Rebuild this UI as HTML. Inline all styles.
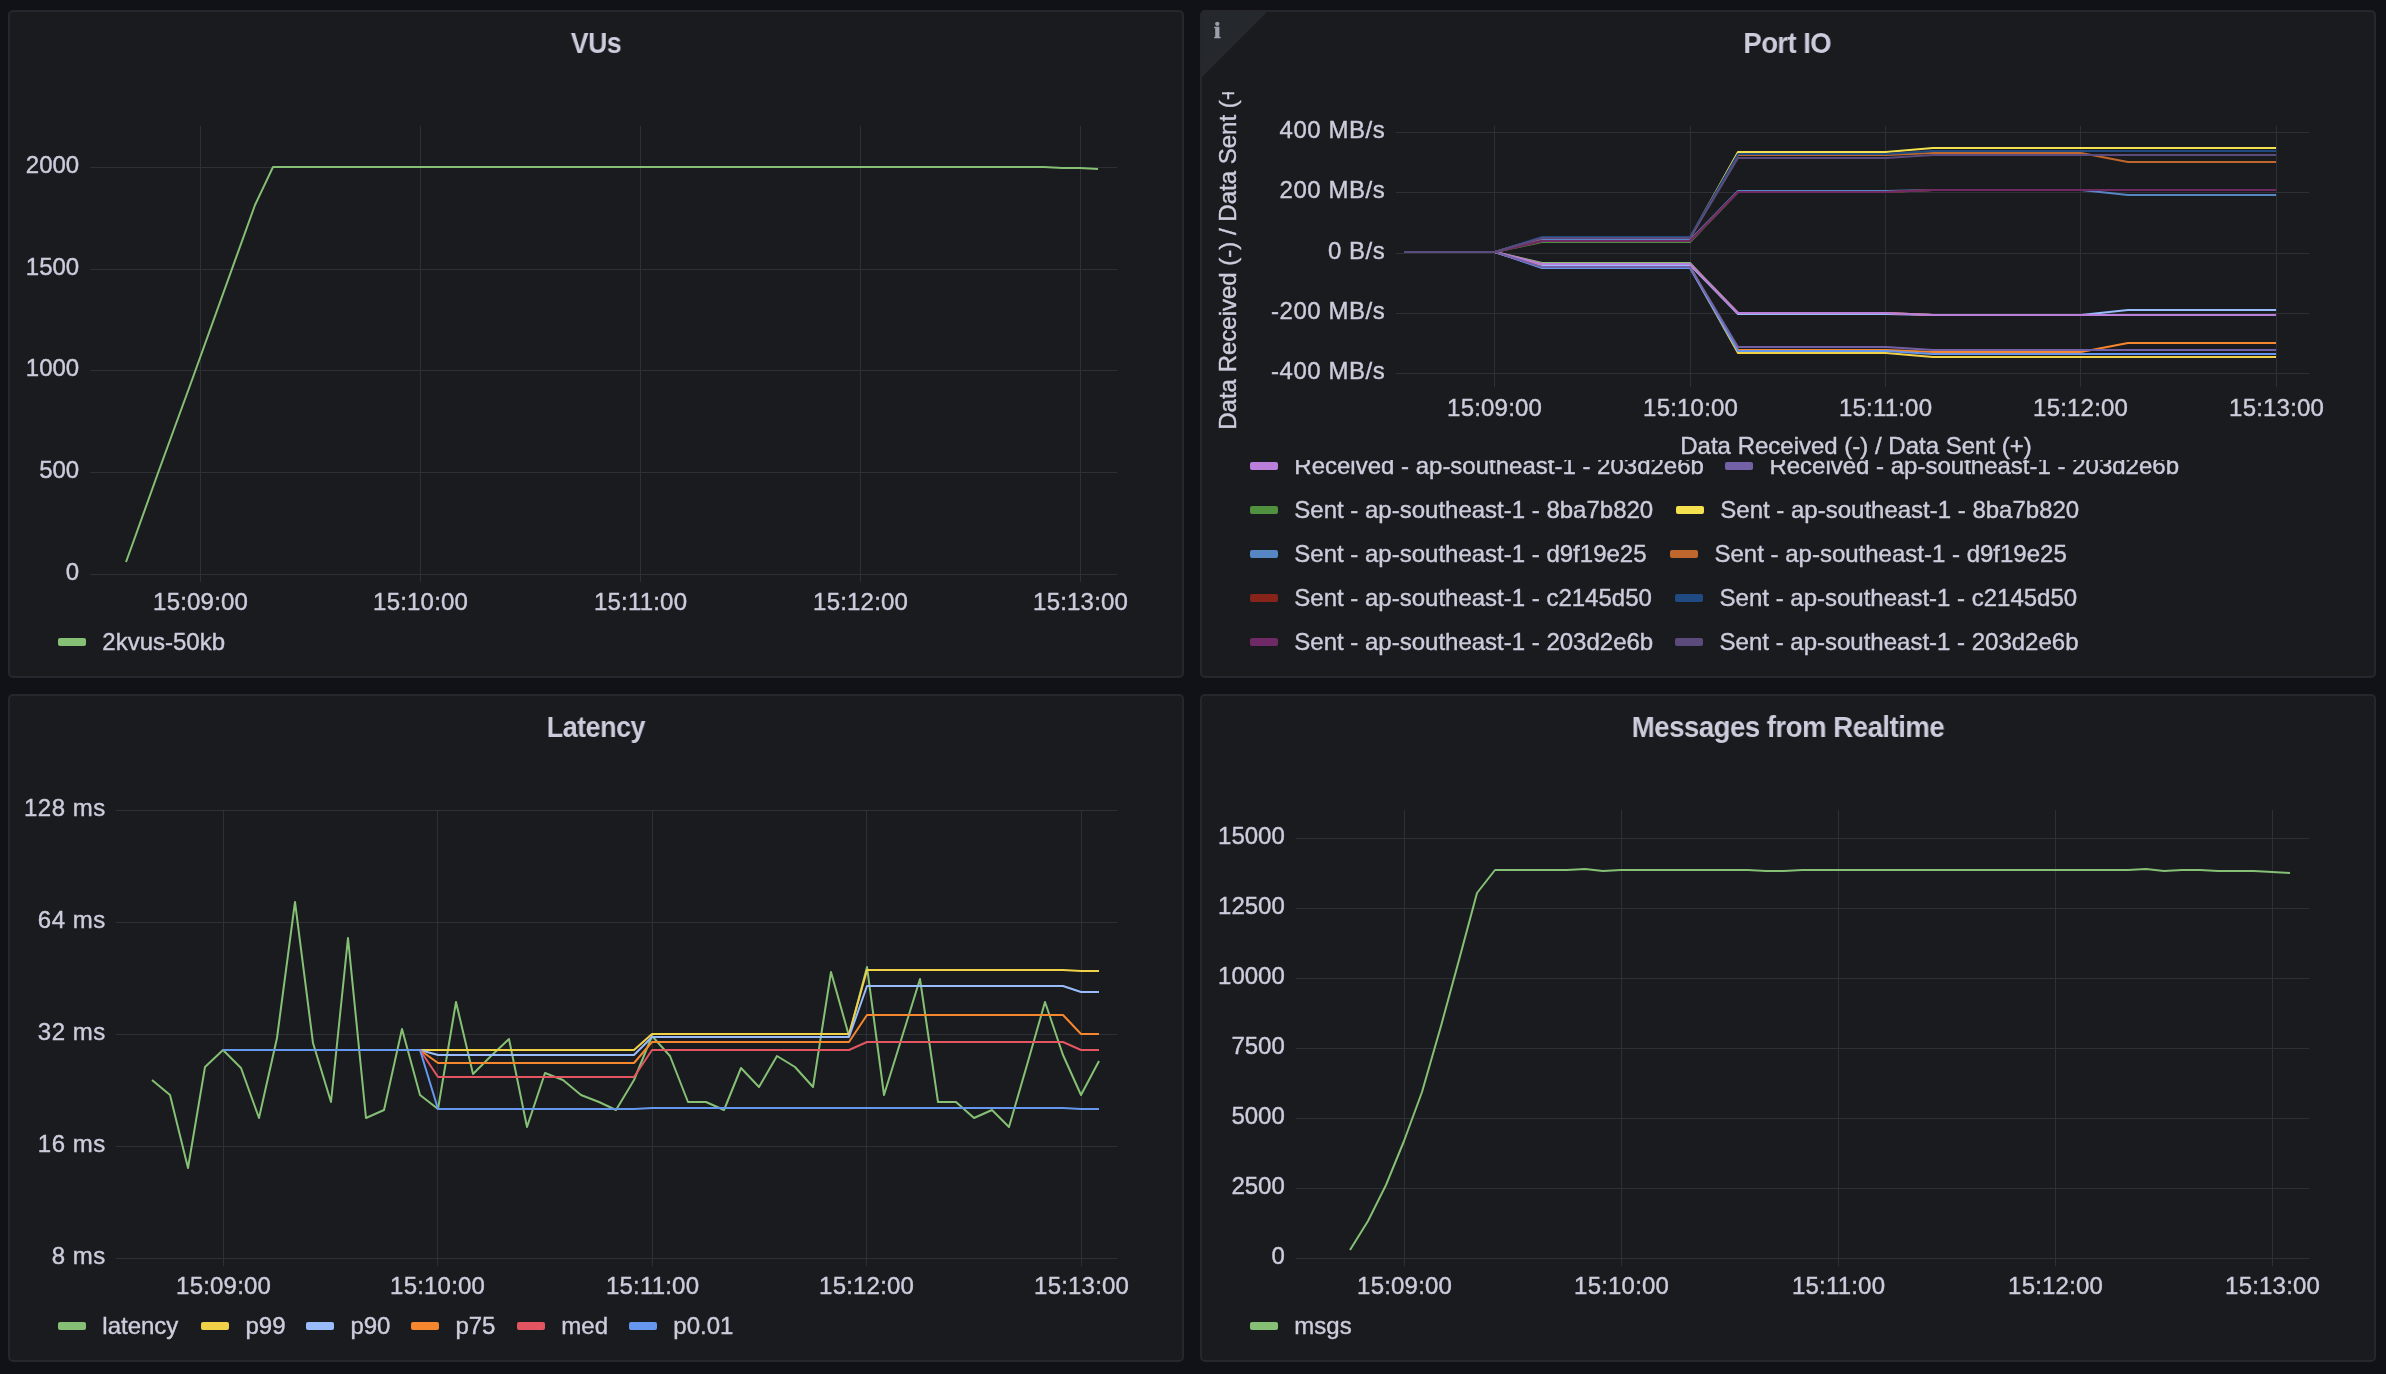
<!DOCTYPE html>
<html lang="en">
<head>
<meta charset="utf-8">
<title>Realtime load test dashboard</title>
<style>
html,body{margin:0;padding:0;}
body{width:2386px;height:1374px;background:#111217;overflow:hidden;position:relative;font-family:"Liberation Sans", sans-serif;color:#ccccdc;}
.panel{position:absolute;width:1172px;height:664px;background:#1a1b1f;border:2px solid #26272c;border-radius:5px;overflow:hidden;}
.title{position:absolute;left:0;right:0;top:10.5px;height:40px;line-height:40px;text-align:center;font-size:29.6px;font-weight:700;color:#ccccdc;letter-spacing:-0.6px;}
.title span{display:inline-block;transform-origin:50% 50%;will-change:transform;}
.chart{position:absolute;will-change:transform;}
.ax text{font-family:"Liberation Sans", sans-serif;font-size:24px;fill:#ccccdc;stroke:#ccccdc;stroke-width:0.4px;}
.legend{position:absolute;left:-2px;top:-2px;width:1176px;height:668px;will-change:transform;}
.sw{position:absolute;width:28px;height:8px;border-radius:2px;}
.lt{position:absolute;font-size:24px;line-height:28px;white-space:nowrap;color:#ccccdc;-webkit-text-stroke:0.4px #ccccdc;}
.corner{position:absolute;left:0;top:0;width:0;height:0;border-top:65px solid #25282d;border-right:65px solid transparent;}
.info{position:absolute;left:12px;top:4.3px;font-family:"Liberation Serif",serif;font-weight:700;font-size:23.5px;line-height:28px;color:#9d9fac;-webkit-text-stroke:0.7px #9d9fac;will-change:transform;}
.lclip{position:absolute;left:-2px;top:448px;width:1176px;height:218px;overflow:hidden;}
</style>
</head>
<body>

<div class="panel" style="left:8px;top:10px">
<div class="title"><span style="transform:scaleX(0.90)">VUs</span></div>
<svg class="chart" width="1176" height="668" viewBox="8 10 1176 668" style="left:-2px;top:-2px">
<rect x="90" y="167" width="1027" height="1" fill="#2f3035"/>
<rect x="90" y="269" width="1027" height="1" fill="#2f3035"/>
<rect x="90" y="370" width="1027" height="1" fill="#2f3035"/>
<rect x="90" y="472" width="1027" height="1" fill="#2f3035"/>
<rect x="90" y="574" width="1027" height="1" fill="#2f3035"/>
<rect x="200" y="126" width="1" height="456" fill="#2f3035"/>
<rect x="420" y="126" width="1" height="456" fill="#2f3035"/>
<rect x="640" y="126" width="1" height="456" fill="#2f3035"/>
<rect x="860" y="126" width="1" height="456" fill="#2f3035"/>
<rect x="1080" y="126" width="1" height="456" fill="#2f3035"/><polyline points="126,562 134,540 158,473 192,380 255,205 273,167 1044,167 1062,168 1080,168 1098,169" fill="none" stroke="#85c074" stroke-width="2" stroke-linejoin="round" stroke-linecap="butt"/><g class="ax"><text x="79.2" y="173" text-anchor="end">2000</text>
<text x="79.2" y="275" text-anchor="end">1500</text>
<text x="79.2" y="376" text-anchor="end">1000</text>
<text x="79.2" y="478" text-anchor="end">500</text>
<text x="79.2" y="580" text-anchor="end">0</text><text x="200.6" y="610" text-anchor="middle" style="letter-spacing:0.2px">15:09:00</text>
<text x="420.6" y="610" text-anchor="middle" style="letter-spacing:0.2px">15:10:00</text>
<text x="640.6" y="610" text-anchor="middle" style="letter-spacing:0.2px">15:11:00</text>
<text x="860.6" y="610" text-anchor="middle" style="letter-spacing:0.2px">15:12:00</text>
<text x="1080.6" y="610" text-anchor="middle" style="letter-spacing:0.2px">15:13:00</text></g>
</svg>
<div class="legend" style="margin-left:-8px;margin-top:-10px">
<span class="sw" style="left:58px;top:638px;background:#85c074"></span><span class="lt" style="left:102.3px;top:628px;">2kvus-50kb</span>
</div>
</div>

<div class="panel" style="left:1200px;top:10px">
<div class="corner"></div><div class="info">i</div>
<div class="title"><span style="transform:scaleX(0.928);margin-left:-1.5px">Port IO</span></div>
<svg class="chart" width="1176" height="668" viewBox="1200 10 1176 668" style="left:-2px;top:-2px">
<rect x="1396" y="132" width="913" height="1" fill="#2f3035"/>
<rect x="1396" y="192" width="913" height="1" fill="#2f3035"/>
<rect x="1396" y="253" width="913" height="1" fill="#2f3035"/>
<rect x="1396" y="313" width="913" height="1" fill="#2f3035"/>
<rect x="1396" y="373" width="913" height="1" fill="#2f3035"/>
<rect x="1494" y="126" width="1" height="261" fill="#2f3035"/>
<rect x="1690" y="126" width="1" height="261" fill="#2f3035"/>
<rect x="1885" y="126" width="1" height="261" fill="#2f3035"/>
<rect x="2080" y="126" width="1" height="261" fill="#2f3035"/>
<rect x="2276" y="126" width="1" height="261" fill="#2f3035"/><polyline points="1404,252 1495,252 1542,263 1690,263 1738,313 1886,313 1933,315 2081,315 2128,315 2276,315" fill="none" stroke="#85c074" stroke-width="2" stroke-linejoin="round" stroke-linecap="butt"/><polyline points="1404,252 1495,252 1542,267 1690,267 1738,353 1886,353 1933,357 2081,357 2128,357 2276,357" fill="none" stroke="#f1d148" stroke-width="2" stroke-linejoin="round" stroke-linecap="butt"/><polyline points="1404,252 1495,252 1542,265 1690,265 1738,314 1886,314 1933,315 2081,315 2128,310 2276,310" fill="none" stroke="#99bdfc" stroke-width="2" stroke-linejoin="round" stroke-linecap="butt"/><polyline points="1404,252 1495,252 1542,267 1690,267 1738,350 1886,350 1933,352 2081,352 2128,343 2276,343" fill="none" stroke="#f6872f" stroke-width="2" stroke-linejoin="round" stroke-linecap="butt"/><polyline points="1404,252 1495,252 1542,264 1690,264 1738,313 1886,313 1933,315 2081,315 2128,315 2276,315" fill="none" stroke="#e25561" stroke-width="2" stroke-linejoin="round" stroke-linecap="butt"/><polyline points="1404,252 1495,252 1542,268 1690,268 1738,351 1886,351 1933,354 2081,354 2128,354 2276,354" fill="none" stroke="#6697ee" stroke-width="2" stroke-linejoin="round" stroke-linecap="butt"/><polyline points="1404,252 1495,252 1542,264 1690,264 1738,313 1886,313 1933,315 2081,315 2128,315 2276,315" fill="none" stroke="#b97fdb" stroke-width="2" stroke-linejoin="round" stroke-linecap="butt"/><polyline points="1404,252 1495,252 1542,267 1690,267 1738,347 1886,347 1933,350 2081,350 2128,350 2276,350" fill="none" stroke="#7261a6" stroke-width="2" stroke-linejoin="round" stroke-linecap="butt"/><polyline points="1404,252 1495,252 1542,242 1690,242 1738,192 1886,192 1933,190 2081,190 2128,190 2276,190" fill="none" stroke="#50913f" stroke-width="2" stroke-linejoin="round" stroke-linecap="butt"/><polyline points="1404,252 1495,252 1542,238 1690,238 1738,152 1886,152 1933,148 2081,148 2128,148 2276,148" fill="none" stroke="#f5e04f" stroke-width="2" stroke-linejoin="round" stroke-linecap="butt"/><polyline points="1404,252 1495,252 1542,240 1690,240 1738,191 1886,191 1933,190 2081,190 2128,195 2276,195" fill="none" stroke="#5686c4" stroke-width="2" stroke-linejoin="round" stroke-linecap="butt"/><polyline points="1404,252 1495,252 1542,238 1690,238 1738,155 1886,155 1933,153 2081,153 2128,162 2276,162" fill="none" stroke="#bf672d" stroke-width="2" stroke-linejoin="round" stroke-linecap="butt"/><polyline points="1404,252 1495,252 1542,241 1690,241 1738,192 1886,192 1933,190 2081,190 2128,190 2276,190" fill="none" stroke="#87241a" stroke-width="2" stroke-linejoin="round" stroke-linecap="butt"/><polyline points="1404,252 1495,252 1542,237 1690,237 1738,154 1886,154 1933,151 2081,151 2128,151 2276,151" fill="none" stroke="#1f4a82" stroke-width="2" stroke-linejoin="round" stroke-linecap="butt"/><polyline points="1404,252 1495,252 1542,241 1690,241 1738,192 1886,192 1933,190 2081,190 2128,190 2276,190" fill="none" stroke="#6f2a66" stroke-width="2" stroke-linejoin="round" stroke-linecap="butt"/><polyline points="1404,252 1495,252 1542,238 1690,238 1738,158 1886,158 1933,155 2081,155 2128,155 2276,155" fill="none" stroke="#5b4a7c" stroke-width="2" stroke-linejoin="round" stroke-linecap="butt"/><g class="ax"><text x="1385.35" y="138" text-anchor="end" style="letter-spacing:0.55px">400 MB/s</text>
<text x="1385.35" y="198" text-anchor="end" style="letter-spacing:0.55px">200 MB/s</text>
<text x="1385.35" y="259" text-anchor="end" style="letter-spacing:0.55px">0 B/s</text>
<text x="1385.35" y="319" text-anchor="end" style="letter-spacing:0.55px">-200 MB/s</text>
<text x="1385.35" y="379" text-anchor="end" style="letter-spacing:0.55px">-400 MB/s</text><text x="1494.6" y="415.5" text-anchor="middle" style="letter-spacing:0.2px">15:09:00</text>
<text x="1690.6" y="415.5" text-anchor="middle" style="letter-spacing:0.2px">15:10:00</text>
<text x="1885.6" y="415.5" text-anchor="middle" style="letter-spacing:0.2px">15:11:00</text>
<text x="2080.6" y="415.5" text-anchor="middle" style="letter-spacing:0.2px">15:12:00</text>
<text x="2276.6" y="415.5" text-anchor="middle" style="letter-spacing:0.2px">15:13:00</text><text x="1856" y="454.4" text-anchor="middle">Data Received (-) / Data Sent (+)</text><clipPath id="yclip"><rect x="1200" y="92" width="60" height="400"/></clipPath><g clip-path="url(#yclip)"><text transform="translate(1235.7 254) rotate(-90)" text-anchor="middle">Data Received (-) / Data Sent (+)</text></g></g>
</svg>
<div class="lclip"><div class="legend" style="left:0;top:0;margin-left:-1200px;margin-top:-460px">
<span class="sw" style="left:1250px;top:462px;background:#b97fdb"></span><span class="lt" style="left:1294.3px;top:452px;">Received - ap-southeast-1 - 203d2e6b</span>
<span class="sw" style="left:1725.1px;top:462px;background:#7261a6"></span><span class="lt" style="left:1769.4px;top:452px;">Received - ap-southeast-1 - 203d2e6b</span>
<span class="sw" style="left:1250px;top:506px;background:#50913f"></span><span class="lt" style="left:1294.3px;top:496px;">Sent - ap-southeast-1 - 8ba7b820</span>
<span class="sw" style="left:1676px;top:506px;background:#f5e04f"></span><span class="lt" style="left:1720.3px;top:496px;">Sent - ap-southeast-1 - 8ba7b820</span>
<span class="sw" style="left:1250px;top:550px;background:#5686c4"></span><span class="lt" style="left:1294.3px;top:540px;">Sent - ap-southeast-1 - d9f19e25</span>
<span class="sw" style="left:1670.2px;top:550px;background:#bf672d"></span><span class="lt" style="left:1714.5px;top:540px;">Sent - ap-southeast-1 - d9f19e25</span>
<span class="sw" style="left:1250px;top:594px;background:#87241a"></span><span class="lt" style="left:1294.3px;top:584px;">Sent - ap-southeast-1 - c2145d50</span>
<span class="sw" style="left:1675.3px;top:594px;background:#1f4a82"></span><span class="lt" style="left:1719.6px;top:584px;">Sent - ap-southeast-1 - c2145d50</span>
<span class="sw" style="left:1250px;top:638px;background:#6f2a66"></span><span class="lt" style="left:1294.3px;top:628px;">Sent - ap-southeast-1 - 203d2e6b</span>
<span class="sw" style="left:1675.3px;top:638px;background:#5b4a7c"></span><span class="lt" style="left:1719.6px;top:628px;">Sent - ap-southeast-1 - 203d2e6b</span>
</div></div>
</div>

<div class="panel" style="left:8px;top:694px">
<div class="title"><span style="transform:scaleX(0.913)">Latency</span></div>
<svg class="chart" width="1176" height="668" viewBox="8 694 1176 668" style="left:-2px;top:-2px">
<rect x="116" y="810" width="1001" height="1" fill="#2f3035"/>
<rect x="116" y="922" width="1001" height="1" fill="#2f3035"/>
<rect x="116" y="1034" width="1001" height="1" fill="#2f3035"/>
<rect x="116" y="1146" width="1001" height="1" fill="#2f3035"/>
<rect x="116" y="1258" width="1001" height="1" fill="#2f3035"/>
<rect x="223" y="810" width="1" height="456" fill="#2f3035"/>
<rect x="437" y="810" width="1" height="456" fill="#2f3035"/>
<rect x="652" y="810" width="1" height="456" fill="#2f3035"/>
<rect x="866" y="810" width="1" height="456" fill="#2f3035"/>
<rect x="1081" y="810" width="1" height="456" fill="#2f3035"/><polyline points="152,1080 170,1095 188,1168 205,1067 223,1050 241,1068 259,1118 277,1038 295,902 313,1043 331,1102 348,938 366,1118 384,1110 402,1029 420,1095 438,1109 456,1002 473,1074 491,1056 509,1039 527,1127 545,1073 563,1080 581,1095 599,1102 616,1110 634,1080 652,1036 670,1056 688,1102 706,1102 724,1110 741,1068 759,1087 777,1056 795,1067 813,1087 831,972 849,1036 867,967 884,1095 902,1037 920,979 938,1102 956,1102 974,1118 992,1110 1009,1127 1027,1065 1045,1002 1063,1055 1081,1095 1099,1061" fill="none" stroke="#85c074" stroke-width="2" stroke-linejoin="round" stroke-linecap="butt"/><polyline points="223,1050 420,1050 438,1050 634,1050 652,1034 849,1034 867,970 1063,970 1081,971 1099,971" fill="none" stroke="#f1d148" stroke-width="2" stroke-linejoin="round" stroke-linecap="butt"/><polyline points="223,1050 420,1050 438,1055 634,1055 652,1037 849,1037 867,986 1063,986 1081,992 1099,992" fill="none" stroke="#99bdfc" stroke-width="2" stroke-linejoin="round" stroke-linecap="butt"/><polyline points="223,1050 420,1050 438,1063 634,1063 652,1042 849,1042 867,1015 1063,1015 1081,1034 1099,1034" fill="none" stroke="#f6872f" stroke-width="2" stroke-linejoin="round" stroke-linecap="butt"/><polyline points="223,1050 420,1050 438,1077 634,1077 652,1050 849,1050 867,1042 1063,1042 1081,1050 1099,1050" fill="none" stroke="#e25561" stroke-width="2" stroke-linejoin="round" stroke-linecap="butt"/><polyline points="223,1050 420,1050 438,1109 634,1109 652,1108 849,1108 867,1108 1063,1108 1081,1109 1099,1109" fill="none" stroke="#6697ee" stroke-width="2" stroke-linejoin="round" stroke-linecap="butt"/><g class="ax"><text x="105.7" y="816" text-anchor="end" style="letter-spacing:0.5px">128 ms</text>
<text x="105.7" y="928" text-anchor="end" style="letter-spacing:0.5px">64 ms</text>
<text x="105.7" y="1040" text-anchor="end" style="letter-spacing:0.5px">32 ms</text>
<text x="105.7" y="1152" text-anchor="end" style="letter-spacing:0.5px">16 ms</text>
<text x="105.7" y="1264" text-anchor="end" style="letter-spacing:0.5px">8 ms</text><text x="223.6" y="1294" text-anchor="middle" style="letter-spacing:0.2px">15:09:00</text>
<text x="437.6" y="1294" text-anchor="middle" style="letter-spacing:0.2px">15:10:00</text>
<text x="652.6" y="1294" text-anchor="middle" style="letter-spacing:0.2px">15:11:00</text>
<text x="866.6" y="1294" text-anchor="middle" style="letter-spacing:0.2px">15:12:00</text>
<text x="1081.6" y="1294" text-anchor="middle" style="letter-spacing:0.2px">15:13:00</text></g>
</svg>
<div class="legend" style="margin-left:-8px;margin-top:-694px">
<span class="sw" style="left:58px;top:1322px;background:#85c074"></span><span class="lt" style="left:102.3px;top:1312px;">latency</span>
<span class="sw" style="left:201.2px;top:1322px;background:#f1d148"></span><span class="lt" style="left:245.5px;top:1312px;">p99</span>
<span class="sw" style="left:306.1px;top:1322px;background:#99bdfc"></span><span class="lt" style="left:350.4px;top:1312px;">p90</span>
<span class="sw" style="left:411.1px;top:1322px;background:#f6872f"></span><span class="lt" style="left:455.4px;top:1312px;">p75</span>
<span class="sw" style="left:517px;top:1322px;background:#e25561"></span><span class="lt" style="left:561.3px;top:1312px;">med</span>
<span class="sw" style="left:629px;top:1322px;background:#6697ee"></span><span class="lt" style="left:673.3px;top:1312px;">p0.01</span>
</div>
</div>

<div class="panel" style="left:1200px;top:694px">
<div class="title"><span style="transform:scaleX(0.936)">Messages from Realtime</span></div>
<svg class="chart" width="1176" height="668" viewBox="1200 694 1176 668" style="left:-2px;top:-2px">
<rect x="1296" y="838" width="1013" height="1" fill="#2f3035"/>
<rect x="1296" y="908" width="1013" height="1" fill="#2f3035"/>
<rect x="1296" y="978" width="1013" height="1" fill="#2f3035"/>
<rect x="1296" y="1048" width="1013" height="1" fill="#2f3035"/>
<rect x="1296" y="1118" width="1013" height="1" fill="#2f3035"/>
<rect x="1296" y="1188" width="1013" height="1" fill="#2f3035"/>
<rect x="1296" y="1258" width="1013" height="1" fill="#2f3035"/>
<rect x="1404" y="810" width="1" height="456" fill="#2f3035"/>
<rect x="1621" y="810" width="1" height="456" fill="#2f3035"/>
<rect x="1838" y="810" width="1" height="456" fill="#2f3035"/>
<rect x="2055" y="810" width="1" height="456" fill="#2f3035"/>
<rect x="2272" y="810" width="1" height="456" fill="#2f3035"/><polyline points="1350,1250 1368,1221 1386,1185 1404,1141 1422,1092 1441,1026 1459,960 1477,893 1495,870 1567,870 1585,869 1603,871 1621,870 1748,870 1766,871 1784,871 1802,870 2128,870 2146,869 2164,871 2182,870 2200,870 2218,871 2236,871 2254,871 2272,872 2290,873" fill="none" stroke="#85c074" stroke-width="2" stroke-linejoin="round" stroke-linecap="butt"/><g class="ax"><text x="1284.8" y="844" text-anchor="end">15000</text>
<text x="1284.8" y="914" text-anchor="end">12500</text>
<text x="1284.8" y="984" text-anchor="end">10000</text>
<text x="1284.8" y="1054" text-anchor="end">7500</text>
<text x="1284.8" y="1124" text-anchor="end">5000</text>
<text x="1284.8" y="1194" text-anchor="end">2500</text>
<text x="1284.8" y="1264" text-anchor="end">0</text><text x="1404.6" y="1294" text-anchor="middle" style="letter-spacing:0.2px">15:09:00</text>
<text x="1621.6" y="1294" text-anchor="middle" style="letter-spacing:0.2px">15:10:00</text>
<text x="1838.6" y="1294" text-anchor="middle" style="letter-spacing:0.2px">15:11:00</text>
<text x="2055.6" y="1294" text-anchor="middle" style="letter-spacing:0.2px">15:12:00</text>
<text x="2272.6" y="1294" text-anchor="middle" style="letter-spacing:0.2px">15:13:00</text></g>
</svg>
<div class="legend" style="margin-left:-1200px;margin-top:-694px">
<span class="sw" style="left:1250px;top:1322px;background:#85c074"></span><span class="lt" style="left:1294.3px;top:1312px;">msgs</span>
</div>
</div>

</body>
</html>
